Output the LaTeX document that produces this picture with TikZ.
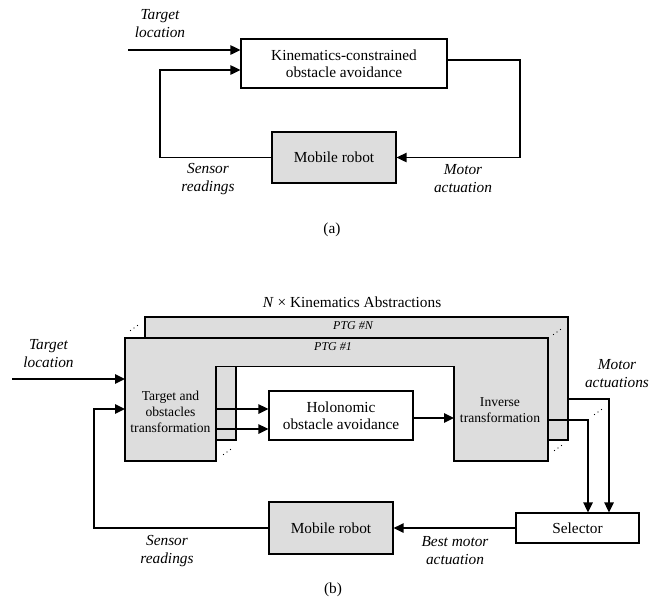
\documentclass[tikz,border=0pt]{standalone}
\usepackage{fontspec}
\setmainfont{Liberation Serif}
\usepackage{tikz}
\usetikzlibrary{calc}
\usetikzlibrary{arrows.meta}
\definecolor{boxgray}{RGB}{221,221,221}
\tikzset{
  block/.style={draw, line width=.9pt, fill=white, align=center, inner sep=1pt,
    font=\fontsize{11.5}{12.75}\selectfont},
  gblock/.style={block, fill=boxgray},
  txt/.style={align=center, inner sep=0, font=\fontsize{11.5}{12.25}\selectfont},
  legtxt/.style={align=center, inner sep=0, font=\fontsize{10.2}{12}\selectfont},
  lbl/.style={align=center, inner sep=0, font=\fontsize{11.5}{13.5}\selectfont\itshape},
  ptg/.style={inner sep=0, font=\fontsize{9}{10}\selectfont\itshape},
  arr/.style={line width=1.3pt, -{Triangle[length=7.5pt,width=7pt]}},
  wire/.style={line width=.8pt, line cap=rect}
}

\begin{document}
\begin{tikzpicture}[x=.75pt, y=-.75pt]
\useasboundingbox (0,0) rectangle (649,600);

%% (a)
\node[block, minimum width=154.5pt, minimum height=36.75pt] (kin) at (344,63.5) {Kinematics-constrained\\obstacle avoidance};
\node[gblock, minimum width=93pt, minimum height=38.25pt] (robotA) at (334,157.5) {Mobile robot};
\coordinate (tgtA) at (128,50);
\coordinate (fbA) at (160,70);
\coordinate (outA) at (520,60);
\draw[arr] (tgtA) -- (tgtA -| kin.west);
\draw[wire] (robotA.west) -| (fbA);
\draw[arr] (fbA) -- (fbA -| kin.west);
\draw[wire] (outA -| kin.east) -- (outA) -- (outA |- robotA.east);
\draw[arr] (outA |- robotA.east) -- (robotA.east);
\node[lbl] (tgtAlbl) at (160,24) {Target\\location};
\node[lbl] (sensA) at (208,179) {Sensor\\readings};
\node[lbl] (motA) at (463,178.5) {Motor\\actuation};
\node[txt] (capA) at (332,230) {(a)};

%% (b)
\node[txt] (title) at (352,302) {\textit{N} × Kinematics Abstractions};
\foreach \dx/\dy/\k in {20/-21/N, 0/0/1} {
  \begin{scope}[shift={(\dx,\dy)}]
    \filldraw[fill=boxgray, line width=.9pt] (125,338) -- (548,338) -- (548,461) -- (454,461)
      -- (454,366.5) -- (216,366.5) -- (216,461) -- (125,461) -- cycle;
    \node[ptg] (ptg\k) at (333,347) {PTG \#\k};
  \end{scope}
}
\node[legtxt] (tot) at (170.5,412) {Target and\\obstacles\\transformation};
\node[legtxt] (inv) at (500,410) {Inverse\\transformation};
\node[block, minimum width=108pt, minimum height=36.75pt] (holo) at (341,415.5) {Holonomic\\obstacle avoidance};
\node[gblock, minimum width=93pt, minimum height=39pt] (robotB) at (331,528) {Mobile robot};
\node[block, minimum width=92.25pt, minimum height=22.5pt] (sel) at (577.5,528) {Selector};

\coordinate (frontL) at (125,338);
\coordinate (tgtB) at (12,379);
\coordinate (fbB) at (94,409);
\coordinate (innerL1) at (216,409);
\coordinate (innerL2) at (216,429);
\coordinate (invIn) at (454,418);
\coordinate (backR) at (568,399);
\coordinate (frontR) at (548,420);
\coordinate (outN) at (609,399);
\coordinate (out1) at (588,420);

\draw[arr] (tgtB) -- (tgtB -| frontL);
\draw[wire] (robotB.west) -| (fbB);
\draw[arr] (fbB) -- (fbB -| frontL);
\draw[arr] (innerL1) -- (innerL1 -| holo.west);
\draw[arr] (innerL2) -- (innerL2 -| holo.west);
\draw[arr] (invIn -| holo.east) -- (invIn);
\draw[wire] (backR) -- (outN);
\draw[arr] (outN) -- (outN |- sel.north);
\draw[wire] (frontR) -- (out1);
\draw[arr] (out1) -- (out1 |- sel.north);
\draw[arr] (sel.west) -- (robotB.east);

% dots between the stacked PTGs
\foreach \px/\py in {134/328, 557/332, 227/452, 558/448, 598/412}
  \foreach \t in {-1,0,1}
    \fill (\px+\t*3.5, \py-\t*2.5) circle (.45pt);

\node[lbl] (tgtBlbl) at (48.5,354) {Target\\location};
\node[lbl] (motB) at (617,374) {Motor\\actuations};
\node[lbl] (sensB) at (167,551) {Sensor\\readings};
\node[lbl] (best) at (455,551) {Best motor\\actuation};
\node[txt] (capB) at (333,590) {(b)};
\end{tikzpicture}
\end{document}
